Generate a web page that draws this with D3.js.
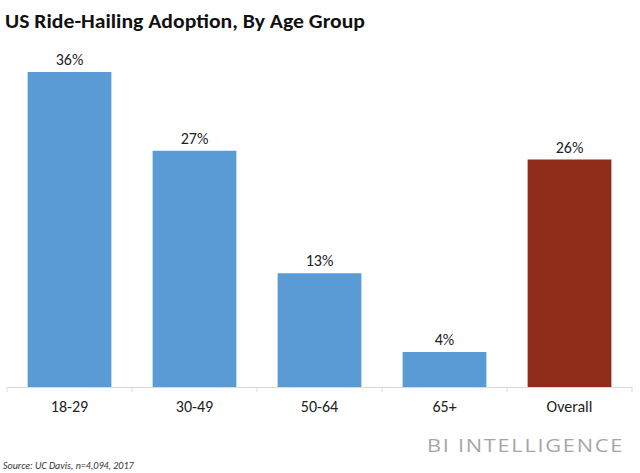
<!DOCTYPE html>
<html><head><meta charset="utf-8">
<script src="https://cdn.jsdelivr.net/npm/d3@7"></script>
<style>body{margin:0;background:#fff}</style>
</head><body>
<script>
const categories = ["18-29", "30-49", "50-64", "65+", "Overall"];
const values = [36, 27, 13, 4, 26];
const colors = ["#5b9bd5", "#5b9bd5", "#5b9bd5", "#5b9bd5", "#8e2b19"];

const W = 640, H = 473;
const svg = d3.select("body").append("svg").attr("width", W).attr("height", H);
const font = "Carlito, 'Open Sans', 'Noto Sans', sans-serif";

const x = d3.scaleBand().domain(categories).range([7, 632]).paddingInner(0.33).paddingOuter(0.165);
const y = d3.scaleLinear().domain([0, 36]).range([387, 72]);

svg.append("text").attr("x", 5).attr("y", 28).attr("font-family", font).attr("font-weight", "bold")
  .attr("font-size", 20).attr("fill", "#111").attr("textLength", 360).attr("lengthAdjust", "spacingAndGlyphs")
  .text("US Ride-Hailing Adoption, By Age Group");

svg.selectAll("rect.bar").data(values).join("rect").attr("class", "bar")
  .attr("x", (d, i) => x(categories[i])).attr("width", x.bandwidth())
  .attr("y", d => y(d)).attr("height", d => y(0) - y(d))
  .attr("fill", (d, i) => colors[i]);

svg.selectAll("text.val").data(values).join("text").attr("class", "val")
  .attr("x", (d, i) => x(categories[i]) + x.bandwidth() / 2).attr("y", d => y(d) - 7)
  .attr("text-anchor", "middle").attr("font-family", font).attr("font-size", 16).attr("fill", "#222")
  .text(d => d + "%");

const axis = d3.axisBottom(x).tickSize(0).tickPadding(14);
const g = svg.append("g").attr("transform", `translate(0,${y(0)})`).call(axis);
g.select(".domain").attr("stroke", "#d9d9d9");
g.selectAll("text").attr("font-family", font).attr("font-size", 16).attr("fill", "#222");
const bounds = d3.range(categories.length + 1).map(i => 7 + i * x.step());
g.selectAll("line.b").data(bounds).join("line").attr("class", "b")
  .attr("x1", d => d).attr("x2", d => d).attr("y1", 0).attr("y2", 5).attr("stroke", "#d9d9d9");

svg.append("text").attr("x", 624).attr("y", 452).attr("text-anchor", "end").attr("font-family", "'Open Sans', sans-serif")
  .attr("font-size", 19).attr("fill", "#a6a6a6").attr("letter-spacing", 1.5).attr("textLength", 197)
  .attr("lengthAdjust", "spacingAndGlyphs").text("BI INTELLIGENCE");

svg.append("text").attr("x", 3).attr("y", 469).attr("font-family", font).attr("font-style", "italic")
  .attr("font-size", 10).attr("fill", "#333").text("Source: UC Davis, n=4,094, 2017");
</script>
</body></html>
